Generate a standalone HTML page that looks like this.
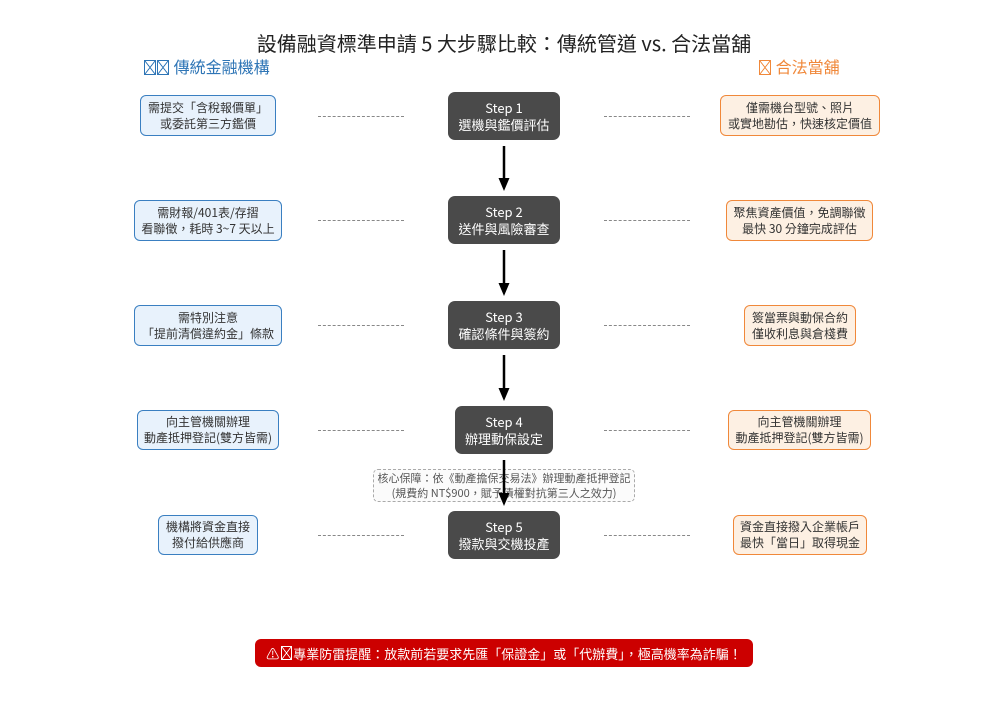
<!DOCTYPE html>
<html><head><meta charset="utf-8"><style>
body{margin:0;width:1008px;height:720px;background:#fff;position:relative;overflow:hidden;font-family:"Noto Sans CJK TC","Liberation Sans",sans-serif;}
.a{position:absolute;box-sizing:border-box;display:flex;align-items:center;justify-content:center;text-align:center;}
.l{background:#e8f2fc;border:1.5px solid #3a7fc1;border-radius:6px;font-size:12px;line-height:16px;color:#333;}
.r{background:#fdf0e3;border:1.5px solid #f0883a;border-radius:6px;font-size:12px;line-height:16px;color:#333;}
.s{background:#4a4a4a;border-radius:7px;color:#fff;font-size:13px;line-height:17px;}
.d{position:absolute;height:0;border-top:1px dashed #888;width:86px;}
.t{position:absolute;white-space:nowrap;}
.x{display:inline-block;width:12px;height:15px;border:1px solid currentColor;box-sizing:border-box;vertical-align:-2px;margin-right:1px;background:linear-gradient(to top right,transparent 46%,currentColor 48%,currentColor 52%,transparent 54%),linear-gradient(to top left,transparent 46%,currentColor 48%,currentColor 52%,transparent 54%);}
</style></head><body>
<div class="t" style="left:0;width:1008px;text-align:center;top:29px;font-size:20px;line-height:28px;color:#222;">設備融資標準申請 5 大步驟比較：傳統管道 vs. 合法當舖</div>
<div class="t" style="left:144px;top:54px;font-size:16px;line-height:24px;color:#2e75b6;"><span class="x"></span><span class="x"></span> 傳統金融機構</div>
<div class="t" style="left:759px;top:54px;font-size:16px;line-height:24px;color:#f0883a;"><span class="x"></span> 合法當舖</div>

<div class="d" style="left:318px;top:116px"></div><div class="d" style="left:604px;top:116px"></div>
<div class="d" style="left:318px;top:220px"></div><div class="d" style="left:604px;top:220px"></div>
<div class="d" style="left:318px;top:325px"></div><div class="d" style="left:604px;top:325px"></div>
<div class="d" style="left:318px;top:430px"></div><div class="d" style="left:604px;top:430px"></div>
<div class="d" style="left:318px;top:535px"></div><div class="d" style="left:604px;top:535px"></div>

<div class="a s" style="left:448px;top:92px;width:112px;height:48px">Step 1<br>選機與鑑價評估</div>
<div class="a s" style="left:448px;top:196px;width:112px;height:48px">Step 2<br>送件與風險審查</div>
<div class="a s" style="left:448px;top:301px;width:112px;height:48px">Step 3<br>確認條件與簽約</div>
<div class="a s" style="left:455px;top:406px;width:98px;height:48px">Step 4<br>辦理動保設定</div>
<div class="a s" style="left:448px;top:511px;width:112px;height:48px">Step 5<br>撥款與交機投產</div>

<div class="a l" style="left:140px;top:95px;width:136px;height:41px">需提交「含稅報價單」<br>或委託第三方鑑價</div>
<div class="a l" style="left:134px;top:200px;width:148px;height:41px">需財報/401表/存摺<br>看聯徵，耗時 3~7 天以上</div>
<div class="a l" style="left:134px;top:305px;width:148px;height:41px">需特別注意<br>「提前清償違約金」條款</div>
<div class="a l" style="left:137px;top:410px;width:142px;height:40px">向主管機關辦理<br>動產抵押登記(雙方皆需)</div>
<div class="a l" style="left:158px;top:515px;width:100px;height:40px">機構將資金直接<br>撥付給供應商</div>

<div class="a r" style="left:720px;top:95px;width:160px;height:41px">僅需機台型號、照片<br>或實地勘估，快速核定價值</div>
<div class="a r" style="left:726px;top:200px;width:147px;height:41px">聚焦資產價值，免調聯徵<br>最快 30 分鐘完成評估</div>
<div class="a r" style="left:744px;top:305px;width:112px;height:41px">簽當票與動保合約<br>僅收利息與倉棧費</div>
<div class="a r" style="left:728px;top:410px;width:143px;height:40px">向主管機關辦理<br>動產抵押登記(雙方皆需)</div>
<div class="a r" style="left:733px;top:515px;width:134px;height:40px">資金直接撥入企業帳戶<br>最快「當日」取得現金</div>

<div class="a" style="left:373px;top:469px;width:262px;height:33px;border:1px dashed #aaa;border-radius:5px;background:rgba(250,250,250,0.85);font-size:11px;line-height:15px;color:#555;">核心保障：依《動產擔保交易法》辦理動產抵押登記<br>(規費約 NT$900，賦予債權對抗第三人之效力)</div>

<svg style="position:absolute;left:0;top:0" width="1008" height="720">
<g stroke="#000" stroke-width="2.5">
<line x1="504" y1="146" x2="504" y2="180"/>
<line x1="504" y1="250" x2="504" y2="285"/>
<line x1="504" y1="355" x2="504" y2="390"/>
<line x1="504" y1="460" x2="504" y2="495"/>
</g>
<g fill="#000">
<path d="M498.5,178 L509.5,178 L504,191 z"/>
<path d="M498.5,283 L509.5,283 L504,296 z"/>
<path d="M498.5,388 L509.5,388 L504,401 z"/>
<path d="M498.5,493 L509.5,493 L504,506 z"/>
</g></svg>

<div class="a" style="left:255px;top:639px;width:498px;height:28px;background:#cc0000;border-radius:6px;color:#fff;font-size:13px;">⚠<span class="x" style="margin-left:2px;width:11px;height:14px"></span> 專業防雷提醒：放款前若要求先匯「保證金」或「代辦費」，極高機率為詐騙！</div>
</body></html>
